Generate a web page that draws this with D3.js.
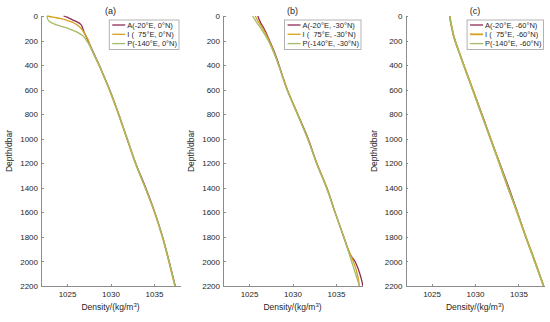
<!DOCTYPE html>
<html>
<head>
    <meta charset="UTF-8">
    <style>
        body { margin: 0; background: #fff; }
        svg { font-family: "Liberation Sans", Arial, sans-serif; }
        .axis path, .axis line {
            fill: none;
            stroke: #8c8c8c;
            shape-rendering: crispEdges;
        }
        .axis text {
            font-size: 8px;
            fill: #262626;
        }
    </style>
</head>
<body>
    <script src="https://cdn.jsdelivr.net/npm/d3@7"></script>
    <script>
        var panelTitles = ["(a)", "(b)", "(c)"];
        var legendNames = [
            ["A(-20°E, 0°N)", "I (  75°E, 0°N)", "P(-140°E, 0°N)"],
            ["A(-20°E, -30°N)", "I (  75°E, -30°N)", "P(-140°E, -30°N)"],
            ["A(-20°E, -60°N)", "I (  75°E, -60°N)", "P(-140°E, -60°N)"]
        ];
        var depthTicks = [0, 200, 400, 600, 800, 1000, 1200, 1400, 1600, 1800, 2000, 2200];
        var densityTicks = [1025, 1030, 1035];
        var colors = ["#8e2c55", "#d6a21e", "#a4bb67"];

        // (a) 0°N
        var depthA = [0, 10, 20, 35, 50, 70, 100, 130, 160, 190, 230, 300, 400, 500, 600, 800, 1000, 1200, 1400, 1600, 1800, 2000, 2200];
        var densA_A = [1024.6, 1025.0, 1025.3, 1025.75, 1026.2, 1026.6, 1026.8, 1026.95, 1027.15, 1027.35, 1027.6, 1028.05, 1028.7, 1029.3, 1029.9, 1030.95, 1031.9, 1032.9, 1034.05, 1035.1, 1036.0, 1036.75, 1037.45];
        var densA_I = [1022.7, 1023.4, 1024.2, 1025.0, 1025.6, 1026.1, 1026.6, 1026.9, 1027.15, 1027.4, 1027.6, 1028.0, 1028.65, 1029.3, 1029.85, 1030.9, 1031.9, 1032.85, 1034.0, 1035.05, 1035.95, 1036.7, 1037.4];
        var densA_P = [1022.7, 1022.72, 1022.75, 1022.85, 1023.1, 1023.7, 1025.1, 1026.1, 1026.8, 1027.15, 1027.5, 1028.0, 1028.7, 1029.25, 1029.9, 1030.95, 1031.95, 1032.9, 1034.0, 1035.1, 1036.0, 1036.75, 1037.45];

        // (b) 30°S
        var depthB = [0, 50, 100, 150, 200, 300, 400, 500, 600, 800, 1000, 1200, 1400, 1600, 1800, 1900, 1950, 2000, 2050, 2100, 2150, 2200];
        var densB_A = [1026.0, 1026.3, 1026.7, 1027.05, 1027.35, 1027.95, 1028.45, 1028.9, 1029.4, 1030.6, 1031.8, 1032.8, 1033.95, 1034.9, 1035.9, 1036.4, 1036.7, 1037.2, 1037.5, 1037.75, 1037.95, 1038.1];
        var densB_I = [1025.7, 1026.1, 1026.55, 1026.95, 1027.3, 1027.9, 1028.4, 1028.9, 1029.4, 1030.6, 1031.75, 1032.8, 1033.95, 1034.9, 1035.9, 1036.4, 1036.7, 1037.0, 1037.25, 1037.45, 1037.6, 1037.7];
        var densB_P = [1025.4, 1025.85, 1026.35, 1026.8, 1027.2, 1027.85, 1028.4, 1028.85, 1029.35, 1030.55, 1031.75, 1032.75, 1033.9, 1034.9, 1035.9, 1036.35, 1036.58, 1036.8, 1037.03, 1037.25, 1037.48, 1037.7];

        // (c) 60°S
        var depthC = [0, 50, 100, 150, 200, 300, 400, 600, 800, 1000, 1200, 1400, 1600, 1800, 2000, 2200];
        var densC_A = [1027.1, 1027.2, 1027.35, 1027.5, 1027.7, 1028.2, 1028.7, 1029.75, 1030.8, 1031.8, 1032.85, 1033.9, 1034.9, 1035.85, 1036.9, 1037.9];
        var densC_I = [1027.1, 1027.2, 1027.35, 1027.5, 1027.7, 1028.2, 1028.7, 1029.75, 1030.75, 1031.8, 1032.8, 1033.8, 1034.85, 1035.85, 1036.9, 1037.9];
        var densC_P = [1027.1, 1027.2, 1027.35, 1027.5, 1027.7, 1028.2, 1028.7, 1029.7, 1030.75, 1031.75, 1032.8, 1033.8, 1034.85, 1035.85, 1036.85, 1037.9];

        var panels = [
            { left: 41, depth: depthA, series: [densA_A, densA_I, densA_P], widths: [1.3, 1.3, 1.3] },
            { left: 223, depth: depthB, series: [densB_A, densB_I, densB_P], widths: [1.3, 1.3, 1.3] },
            { left: 405.5, depth: depthC, series: [densC_A, densC_I, densC_P], widths: [1.3, 1.8, 1.3] }
        ];

        var w = 550, h = 322;
        var plotTop = 16, plotBottom = 286, pw = 139;

        var svg = d3.select("body").append("svg")
            .attr("width", w)
            .attr("height", h);

        var yScale = d3.scaleLinear().domain([0, 2200]).range([plotTop, plotBottom]);

        panels.forEach(function (p, pi) {
            var xScale = d3.scaleLinear().domain([1022, 1038]).range([p.left, p.left + pw]);

            svg.append("clipPath").attr("id", "clip" + pi)
                .append("rect")
                .attr("x", p.left).attr("y", plotTop - 1)
                .attr("width", pw + 1).attr("height", plotBottom - plotTop + 1);

            var line = d3.line()
                .x(function (d) { return xScale(d[0]); })
                .y(function (d) { return yScale(d[1]); })
                .curve(d3.curveMonotoneY);

            var g = svg.append("g").attr("clip-path", "url(#clip" + pi + ")");
            p.series.forEach(function (s, si) {
                g.append("path")
                    .datum(s.map(function (v, i) { return [v, p.depth[i]]; }))
                    .attr("fill", "none")
                    .attr("stroke", colors[si])
                    .attr("stroke-width", p.widths[si])
                    .attr("d", line);
            });

            svg.append("g")
                .attr("class", "axis")
                .attr("transform", "translate(" + p.left + ",0)")
                .call(d3.axisLeft(yScale).tickValues(depthTicks).tickFormat(d3.format("d"))
                    .tickSizeInner(-2.5).tickSizeOuter(0).tickPadding(3));

            svg.append("g")
                .attr("class", "axis")
                .attr("transform", "translate(0," + plotBottom + ")")
                .call(d3.axisBottom(xScale).tickValues(densityTicks).tickFormat(d3.format("d"))
                    .tickSizeInner(-2.5).tickSizeOuter(0).tickPadding(5));

            svg.append("text")
                .attr("x", p.left + pw / 2)
                .attr("y", 14)
                .attr("text-anchor", "middle")
                .attr("font-size", 9)
                .attr("fill", "#262626")
                .text(panelTitles[pi]);

            svg.append("text")
                .attr("transform", "translate(" + (p.left - 29) + "," + ((plotTop + plotBottom) / 2) + ") rotate(-90)")
                .attr("text-anchor", "middle")
                .attr("font-size", 8.5)
                .attr("fill", "#262626")
                .text("Depth/dbar");

            var xlab = svg.append("text")
                .attr("x", p.left + pw / 2)
                .attr("y", 310)
                .attr("text-anchor", "middle")
                .attr("font-size", 8.5)
                .attr("fill", "#262626");
            xlab.append("tspan").text("Density/(kg/m");
            xlab.append("tspan").attr("dy", -3.5).attr("font-size", 6).text("3");
            xlab.append("tspan").attr("dy", 3.5).text(")");

            // legend
            var lg = svg.append("g");
            var box = lg.append("rect")
                .attr("fill", "#fff")
                .attr("stroke", "#a0a0a0")
                .attr("stroke-width", 0.8);
            var maxLen = 0;
            legendNames[pi].forEach(function (name, si) {
                var yy = 25 + si * 9.3;
                lg.append("line")
                    .attr("x1", 0).attr("x2", 13)
                    .attr("y1", yy).attr("y2", yy)
                    .attr("stroke", colors[si])
                    .attr("stroke-width", p.widths[si]);
                var t = lg.append("text")
                    .attr("x", 15)
                    .attr("y", yy + 2.7)
                    .attr("font-size", 7.5)
                    .attr("fill", "#262626")
                    .style("white-space", "pre")
                    .text(name);
                maxLen = Math.max(maxLen, t.node().getComputedTextLength());
            });
            var bw = 15 + maxLen + 5;
            box.attr("x", -3).attr("y", 20).attr("width", bw).attr("height", 29.5);
            lg.attr("transform", "translate(" + (p.left + pw - 1 - bw + 3) + ",0)");
        });
    </script>
</body>
</html>
